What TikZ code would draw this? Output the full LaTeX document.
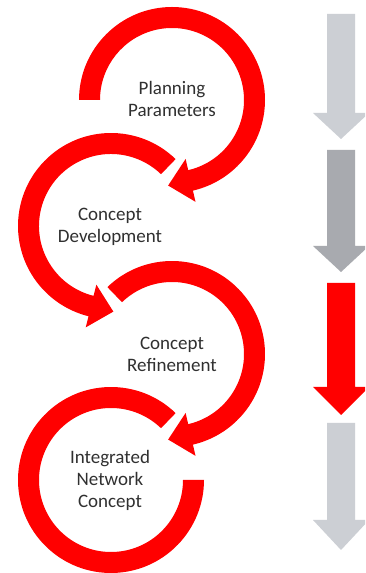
\documentclass[tikz,border=0pt]{standalone}
\usepackage{fontspec}
\setmainfont{Carlito}
\usetikzlibrary{calc}
\definecolor{cred}{RGB}{255,0,0}
\definecolor{lgray}{RGB}{204,207,212}
\definecolor{dgray}{RGB}{168,170,175}
\definecolor{txt}{RGB}{48,48,48}
\newcommand\blockarr[4]{%
  \fill[#1] (327,#2) -- (355,#2) -- (355,#3) -- (369,#3) -- (341,#4) -- (313,#3) -- (327,#3) -- cycle;}
\tikzset{
  lbl/.style={text=txt, align=center, font=\fontsize{19}{22}\selectfont, inner sep=0pt},
  ring/.style={fill=cred}
}
\begin{document}
\begin{tikzpicture}[x=1pt,y=1pt]
\useasboundingbox (0,0) rectangle (365,573);
\fill[white] (0,0) rectangle (365,573);
\begin{scope}
\clip (0,0) rectangle (365,573);
\coordinate (C1) at (172,473);
\coordinate (C2) at (111,347);
\coordinate (C3) at (172,219);
\coordinate (C4) at (111,93);
% circle 1: clockwise from 180 to -77
\fill[ring] ($(C1)+(180:93)$) arc[start angle=180, end angle=-77, radius=93]
  -- ($(C1)+(-77:104.5)$) -- ($(C1)+(-77:82.5)+(-167:23)$) -- ($(C1)+(-77:60.5)$)
  -- ($(C1)+(-77:72)$) arc[start angle=-77, end angle=180, radius=72] -- cycle;
% circle 2: counterclockwise from 46 to 256
\fill[ring] ($(C2)+(46:93)$) arc[start angle=46, end angle=256, radius=93]
  -- ($(C2)+(256:104.5)$) -- ($(C2)+(256:82.5)+(346:23)$) -- ($(C2)+(256:60.5)$)
  -- ($(C2)+(256:72)$) arc[start angle=256, end angle=46, radius=72] -- cycle;
% circle 3: clockwise from 134 to -77
\fill[ring] ($(C3)+(134:93)$) arc[start angle=134, end angle=-77, radius=93]
  -- ($(C3)+(-77:104.5)$) -- ($(C3)+(-77:82.5)+(-167:23)$) -- ($(C3)+(-77:60.5)$)
  -- ($(C3)+(-77:72)$) arc[start angle=-77, end angle=134, radius=72] -- cycle;
% circle 4: counterclockwise from 46 to 360
\fill[ring] ($(C4)+(46:93)$) arc[start angle=46, end angle=360, radius=93]
  -- ($(C4)+(0:72)$) arc[start angle=360, end angle=46, radius=72] -- cycle;
% right-hand block arrows
\blockarr{lgray}{559}{460}{434}
\blockarr{dgray}{423}{327}{301}
\blockarr{cred}{290}{186}{158}
\blockarr{lgray}{150}{53}{23}
\end{scope}
\node[lbl] (t1) at (172,474) {Planning\\Parameters};
\node[lbl] (t2) at (110,346) {Concept\\Development};
\node[lbl] (t3) at (172,219) {Concept\\Refinement};
\node[lbl] (t4) at (110,93) {Integrated\\Network\\Concept};
\end{tikzpicture}
\end{document}
